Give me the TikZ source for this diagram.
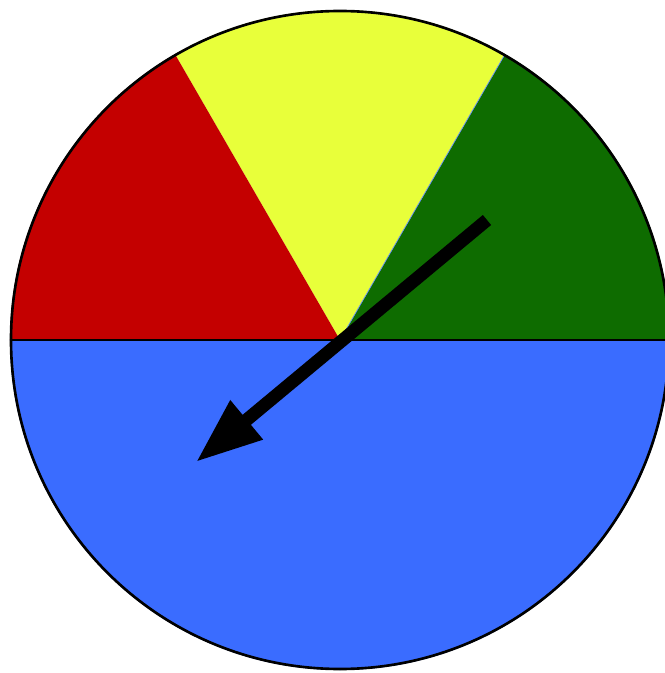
\documentclass[tikz,border=0pt]{standalone}
\usepackage{xcolor}
\usepackage{tikz}
\usetikzlibrary{arrows.meta}
\definecolor{spinred}{RGB}{196,0,0}
\definecolor{spinyellow}{RGB}{232,255,58}
\definecolor{spingreen}{RGB}{14,108,0}
\definecolor{spinblue}{RGB}{58,108,255}
\tikzset{
  sector/.style={draw=none},
  rim/.style={draw=black, line width=1.5pt},
  pointer/.style={-{Triangle[length=1.32cm, width=0.95cm]}, line width=0.26cm, color=black}
}
\begin{document}
\begin{tikzpicture}[x=0.02cm, y=0.02cm]
  \useasboundingbox (-340,-333) rectangle (324,340);

  % Spinner sectors
  \fill[sector, spinblue] (0,0) -- (180:330) arc[start angle=180, end angle=360, radius=330] -- cycle;
  \fill[sector, spingreen] (0,0) -- (0:330) arc[start angle=0, end angle=60, radius=330] -- cycle;
  \fill[sector, spinyellow] (0,0) -- (60:330) arc[start angle=60, end angle=120, radius=330] -- cycle;
  \fill[sector, spinred] (0,0) -- (120:330) arc[start angle=120, end angle=180, radius=330] -- cycle;
  \draw[spinblue!80, line width=0.4pt] (60:330) -- (0,0) -- (0:330);

  % Rim and diameter
  \draw[rim] (0,0) circle[radius=329];
  \draw[rim] (180:330) -- (0:330);

  % Pointer
  \coordinate (tail) at (147,120);
  \coordinate (tip) at (-144,-122);
  \draw[pointer] (tail) -- (tip);
\end{tikzpicture}
\end{document}
